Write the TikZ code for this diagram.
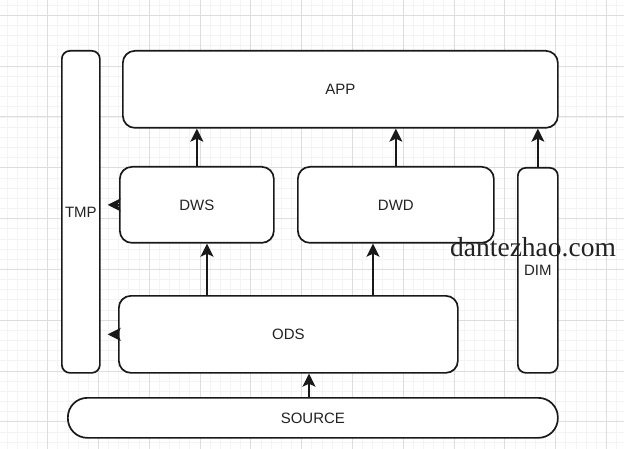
\documentclass[tikz,border=0pt]{standalone}
\usepackage{fontspec}
\usetikzlibrary{arrows.meta}
\newfontfamily\arialf{Liberation Sans}
\newfontfamily\timesf{Liberation Serif}
\definecolor{txt}{HTML}{222222}
\definecolor{minorgrid}{HTML}{F3F3F3}
\definecolor{majorgrid}{HTML}{DDDDDD}
\tikzset{
  box/.style={draw=black!90, line width=1.7pt, fill=white, rounded corners=#1,
    anchor=north west, inner sep=0pt, text=txt,
    font=\arialf\fontsize{15}{17}\selectfont},
  box/.default=12pt,
  arr/.style={draw=black!90, line width=1.7pt,
    -{Stealth[length=13pt,width=13pt,inset=3pt]}},
}
\begin{document}
\begin{tikzpicture}[x=1pt,y=-1pt]
\useasboundingbox (0,0) rectangle (624,449);
\fill[white] (0,0) rectangle (624,449);
% grid
\foreach \i in {-4,...,56} {
  \pgfmathsetmacro{\xx}{47.5+10.16*\i}
  \draw[minorgrid, line width=0.6pt] (\xx,0) -- (\xx,449);
}
\foreach \j in {-1,...,42} {
  \pgfmathsetmacro{\yy}{15.3+10.16*\j}
  \draw[minorgrid, line width=0.6pt] (0,\yy) -- (624,\yy);
}
\foreach \i in {-1,...,11} {
  \pgfmathsetmacro{\xx}{47.5+50.8*\i}
  \draw[majorgrid, line width=0.8pt] (\xx,0) -- (\xx,449);
}
\foreach \j in {0,...,8} {
  \pgfmathsetmacro{\yy}{15.3+50.8*\j}
  \draw[majorgrid, line width=0.8pt] (0,\yy) -- (624,\yy);
}
% boxes
\node[box, minimum width=435pt, minimum height=77pt] (app) at (122,50) {APP};
\node[box=8pt, minimum width=38pt, minimum height=322pt] (tmp) at (61,50) {TMP};
\node[box, minimum width=154pt, minimum height=76pt] (dws) at (119,166) {DWS};
\node[box, minimum width=196pt, minimum height=76pt] (dwd) at (297,166) {DWD};
\node[box=8pt, minimum width=40pt, minimum height=205pt] (dim) at (517,167) {DIM};
\node[box, minimum width=339pt, minimum height=77pt] (ods) at (118,295) {ODS};
\node[box=19.5pt, minimum width=490pt, minimum height=40pt] (src) at (67,397) {SOURCE};
% arrows
\draw[arr] (dws.north) -- (dws.north |- app.south);
\draw[arr] (dwd.north) -- (dwd.north |- app.south);
\draw[arr] (dim.north) -- (dim.north |- app.south);
\draw[arr] (ods.north -| 207,0) -- (dws.south -| 207,0);
\draw[arr] (ods.north -| 373,0) -- (dwd.south -| 373,0);
\draw[arr] (src.north -| 309,0) -- (ods.south -| 309,0);
\draw[arr, shorten >=7pt] (dws.west) -- (dws.west -| tmp.east);
\draw[arr, shorten >=7pt] (ods.west) -- (ods.west -| tmp.east);
% watermark
\node[anchor=base west, inner sep=0pt, text=txt, font=\timesf\fontsize{27.5}{30}\selectfont] (wm) at (450,257) {dantezhao.com};
\end{tikzpicture}
\end{document}
